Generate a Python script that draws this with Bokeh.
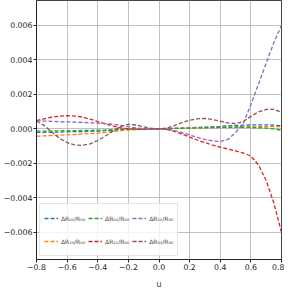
from bokeh.plotting import figure
from bokeh.models import Legend, LegendItem, FixedTicker, CustomJSTickFormatter, Range1d
from bokeh.embed import file_html
from bokeh.resources import INLINE

u = [-0.8, -0.75, -0.7, -0.65, -0.6, -0.55, -0.5, -0.45, -0.4, -0.35, -0.3, -0.25,
     -0.2, -0.15, -0.1, -0.05, 0.0, 0.05, 0.1, 0.15, 0.2, 0.25, 0.3, 0.35, 0.4,
     0.45, 0.5, 0.55, 0.6, 0.65, 0.7, 0.75, 0.8]

d_r01 = [-0.00021, -0.00021, -0.0002, -0.00019, -0.00018, -0.00017, -0.00016, -0.00015,
         -0.00013, -0.00011, -0.00008, -0.00005, -0.00003, -0.00002, -0.00001, 0.0, 0.0,
         0.00001, 0.00002, 0.00004, 0.00006, 0.00008, 0.0001, 0.00012, 0.00014, 0.00017,
         0.00019, 0.00021, 0.00022, 0.00023, 0.00023, 0.00021, 0.00018]
d_r10 = [-0.00043, -0.00041, -0.00039, -0.00037, -0.00035, -0.00033, -0.0003, -0.00028,
         -0.00025, -0.00021, -0.00016, -0.00011, -0.00007, -0.00004, -0.00002, -0.00001, 0.0,
         0.00001, 0.00002, 0.00004, 0.00005, 0.00006, 0.00007, 0.00008, 0.00009, 0.0001,
         0.0001, 0.00011, 0.00011, 0.00012, 0.00012, 0.00012, 0.00012]
d_r02 = [-0.00013, -0.00013, -0.00012, -0.00012, -0.00011, -0.00011, -0.0001, -0.00009,
         -0.00008, -0.00007, -0.00005, -0.00003, -0.00002, -0.00001, -0.00001, 0.0, 0.0,
         0.00001, 0.00002, 0.00003, 0.00004, 0.00005, 0.00006, 0.00007, 0.00008, 0.00009,
         0.00009, 0.00009, 0.00008, 0.00006, 0.00004, -0.00001, -0.00008]
d_r11 = [0.00047, 0.00058, 0.00067, 0.00073, 0.00076, 0.00074, 0.00068, 0.00056,
         0.00042, 0.00028, 0.00016, 0.00006, 0.0, -0.00003, -0.00003, -0.00002, 0.0,
         -0.00004, -0.00015, -0.0003, -0.00048, -0.00065, -0.0008, -0.00095, -0.00107,
         -0.00118, -0.00128, -0.0014, -0.00158, -0.0021, -0.003, -0.0043, -0.006]
d_r12 = [0.00047, 0.00045, 0.00043, 0.00041, 0.0004, 0.00039, 0.00037, 0.00035,
         0.00033, 0.0003, 0.00026, 0.0002, 0.00012, 0.00005, 0.00001, 0.0, 0.0,
         -0.00003, -0.0001, -0.00022, -0.00036, -0.0005, -0.00062, -0.0007, -0.00074,
         -0.00062, -0.00022, 0.0003, 0.0014, 0.0026, 0.0038, 0.005, 0.006]
d_r03 = [0.00045, 0.0002, -0.0002, -0.00055, -0.0008, -0.00094, -0.00096, -0.00087,
         -0.00068, -0.00042, -0.00012, 0.00014, 0.00026, 0.00022, 0.00011, 0.00003, 0.0,
         0.00004, 0.00018, 0.00036, 0.0005, 0.00058, 0.0006, 0.00054, 0.00044, 0.00034,
         0.0003, 0.00042, 0.00072, 0.00098, 0.00112, 0.00113, 0.00095]

labels = ["ΔR₀₁/R₀₀", "ΔR₁₀/R₀₀", "ΔR₀₂/R₀₀", "ΔR₁₁/R₀₀", "ΔR₁₂/R₀₀", "ΔR₀₃/R₀₀"]
series = [d_r01, d_r10, d_r02, d_r11, d_r12, d_r03]
colors = ["#1f77b4", "#ff7f0e", "#2ca02c", "#d62728", "#9467bd", "#8c564b"]

x_ticks = [-0.8, -0.6, -0.4, -0.2, 0.0, 0.2, 0.4, 0.6, 0.8]
y_ticks = [-0.006, -0.004, -0.002, 0.0, 0.002, 0.004, 0.006]

p = figure(frame_width=245, frame_height=259, output_backend="svg", toolbar_location=None,
           x_range=Range1d(-0.8, 0.8), y_range=Range1d(-0.00758, 0.00744),
           min_border_left=27, min_border_right=3, min_border_top=0, min_border_bottom=10)

FONT = "DejaVu Sans"
items = []
for lab, ys, c in zip(labels, series, colors):
    r = p.line(u, ys, line_color=c, line_width=1.3, line_dash="4 2")
    items.append(LegendItem(label=lab, renderers=[r]))

p.xaxis.ticker = FixedTicker(ticks=x_ticks)
p.yaxis.ticker = FixedTicker(ticks=y_ticks)
p.xaxis.formatter = CustomJSTickFormatter(code="""
  const s = Math.abs(tick).toFixed(1);
  return (tick < -1e-9 ? '\u2212' : '') + s;""")
p.yaxis.formatter = CustomJSTickFormatter(code="""
  const s = Math.abs(tick).toFixed(3);
  return (tick < -1e-12 ? '\u2212' : '') + s;""")
p.xaxis.axis_label = "u"
for ax in (p.xaxis, p.yaxis):
    ax.major_label_text_font = FONT
    ax.major_label_text_font_size = "7.8px"
    ax.major_label_text_color = "#222222"
    ax.axis_label_text_font = FONT
    ax.axis_label_text_font_size = "8.5px"
    ax.axis_label_text_font_style = "normal"
    ax.axis_label_standoff = 6
    ax.minor_tick_line_color = None
    ax.major_tick_in = 0
    ax.major_tick_out = 3
    ax.major_tick_line_color = "#222222"
    ax.axis_line_color = "#222222"
    ax.major_label_standoff = 1

p.xgrid.grid_line_color = "#b0b0b0"
p.ygrid.grid_line_color = "#b0b0b0"
p.xgrid.grid_line_alpha = 0.8
p.ygrid.grid_line_alpha = 0.8
p.outline_line_color = "#444444"
p.outline_line_width = 1

legend = Legend(items=items, location=(3, 3), ncols=3)
legend.label_text_font = FONT
legend.label_text_font_size = "6px"
legend.glyph_width = 14
legend.glyph_height = 20
legend.label_height = 20
legend.label_standoff = 3
legend.spacing = 3
legend.padding = 4
legend.margin = 0
legend.border_line_color = "#cccccc"
legend.background_fill_alpha = 0.8
p.add_layout(legend, "center")

open("out.html", "w").write(file_html(p, INLINE))
